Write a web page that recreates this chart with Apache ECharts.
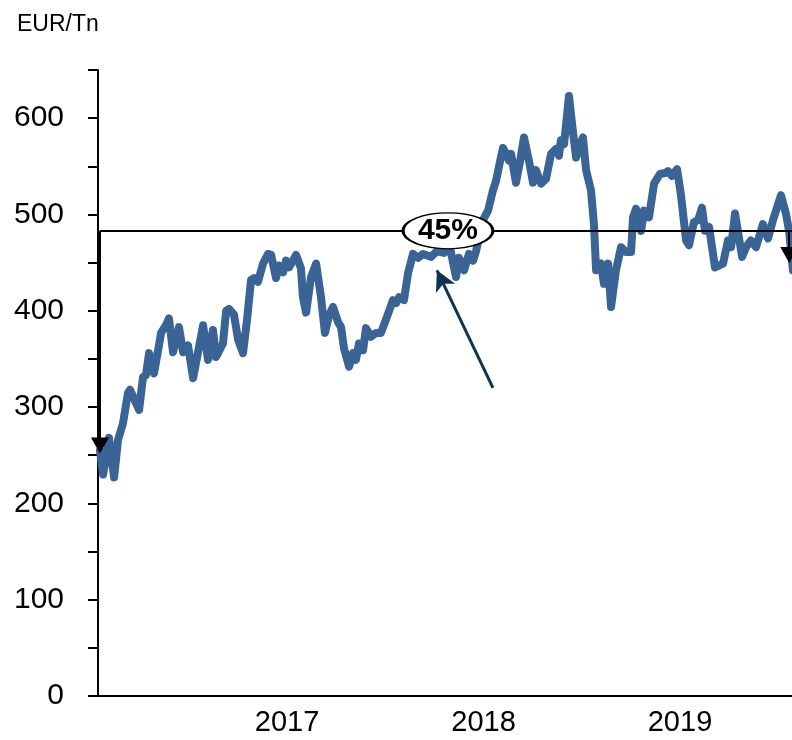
<!DOCTYPE html>
<html>
<head>
<meta charset="utf-8">
<script src="https://cdn.jsdelivr.net/npm/echarts@6/dist/echarts.min.js"></script>
<style>html,body{margin:0;padding:0;background:#fff}#c{width:792px;height:740px}</style>
</head>
<body>
<div id="c"></div>
<script>
// Dates as decimal years, prices in EUR/Tn
const dates = [2016.048,2016.064,2016.094,2016.120,2016.140,2016.165,2016.191,2016.201,2016.247,2016.267,2016.282,2016.298,2016.308,2016.323,2016.344,2016.359,2016.384,2016.399,2016.420,2016.450,2016.471,2016.496,2016.522,2016.573,2016.598,2016.623,2016.639,2016.674,2016.690,2016.705,2016.730,2016.751,2016.776,2016.796,2016.817,2016.832,2016.852,2016.878,2016.903,2016.919,2016.944,2016.959,2016.980,2016.995,2017.010,2017.046,2017.071,2017.081,2017.097,2017.122,2017.148,2017.173,2017.193,2017.214,2017.234,2017.260,2017.275,2017.290,2017.316,2017.336,2017.351,2017.366,2017.387,2017.402,2017.427,2017.453,2017.478,2017.509,2017.539,2017.555,2017.570,2017.595,2017.616,2017.641,2017.667,2017.692,2017.733,2017.763,2017.799,2017.830,2017.860,2017.875,2017.901,2017.926,2017.947,2017.962,2017.982,2017.997,2018.023,2018.048,2018.064,2018.084,2018.099,2018.115,2018.130,2018.140,2018.165,2018.186,2018.206,2018.232,2018.252,2018.267,2018.293,2018.318,2018.344,2018.369,2018.384,2018.394,2018.410,2018.435,2018.450,2018.471,2018.491,2018.506,2018.522,2018.547,2018.562,2018.573,2018.598,2018.613,2018.634,2018.649,2018.674,2018.700,2018.725,2018.751,2018.761,2018.776,2018.802,2018.817,2018.842,2018.868,2018.898,2018.924,2018.939,2018.959,2018.985,2019.005,2019.031,2019.046,2019.071,2019.092,2019.112,2019.127,2019.148,2019.178,2019.219,2019.244,2019.260,2019.280,2019.316,2019.336,2019.361,2019.387,2019.422,2019.448,2019.473,2019.514,2019.539,2019.555,2019.575];
const prices = [255,230,268,227,266,283,315,318,297,331,333,356,357,335,359,377,385,392,357,383,357,364,330,385,349,380,352,366,400,402,396,370,356,390,432,434,430,449,459,458,434,447,440,452,445,458,444,414,398,435,449,414,377,395,404,388,383,361,342,356,349,366,359,382,373,377,377,394,411,408,414,411,439,459,455,459,456,462,460,465,435,455,442,459,452,462,480,494,504,525,535,555,569,563,556,563,533,555,580,555,533,546,532,537,563,568,561,577,573,623,595,559,572,580,546,525,490,442,449,428,449,404,442,466,461,461,497,506,483,504,497,532,542,543,545,540,547,520,473,468,492,494,507,483,487,445,449,473,466,501,456,466,473,466,490,475,494,520,501,483,442];
const yTicks = [0,100,200,300,400,500,600];
const xYears = [2017,2018,2019];
const unitLabel = 'EUR/Tn';
const refLevel = 483;      // reference horizontal level
const startLevel = 260;    // start price (arrow head centre)
const endLevel = 458;      // end price (right arrow head centre)
const changeLabel = '45%';
const startDate = 2016.048, endDate = 2019.556;
const calloutFrom = [2018.048, 320], calloutTo = [2017.763, 442];
const bubbleAt = [2017.819, 483];

const FONT = 'Arial, "Liberation Sans", sans-serif';
const chart = echarts.init(document.getElementById('c'), null, {renderer:'canvas'});
chart.setOption({
  animation:false,
  backgroundColor:'#fff',
  title:{text:unitLabel,left:12,top:8,textStyle:{fontFamily:FONT,fontSize:23,fontWeight:'normal',color:'#000'}},
  grid:{left:98,right:0,top:70,bottom:44,containLabel:false},
  xAxis:{type:'value',min:2016.038,max:2019.57,
    axisLine:{show:true,lineStyle:{color:'#000',width:2}},
    axisTick:{show:false},splitLine:{show:false},
    axisLabel:{customValues:xYears,formatter:v=>String(Math.round(v)),fontFamily:FONT,fontSize:29,color:'#000',margin:12}},
  yAxis:{type:'value',min:0,max:650,interval:50,
    axisLine:{show:true,lineStyle:{color:'#000',width:2}},
    axisTick:{show:true,inside:false,length:10,lineStyle:{color:'#000',width:2}},
    splitLine:{show:false},
    axisLabel:{formatter:v=>(yTicks.indexOf(v)>=0?String(v):''),fontFamily:FONT,fontSize:30,color:'#000',margin:34}},
  series:[
    {type:'line',data:dates.map((d,i)=>[d,prices[i]]),showSymbol:false,symbol:'none',smooth:false,
     lineStyle:{color:'#3b6496',width:8,join:'round',cap:'round'},z:2,clip:true},
    {type:'line',data:[],z:5,silent:true,
     markLine:{silent:true,animation:false,label:{show:false},emphasis:{disabled:true},
       data:[
         [{coord:[startDate,refLevel],symbol:'none',lineStyle:{color:'#000',width:2,type:'solid'}},{coord:[2019.57,refLevel],symbol:'none'}],
         [{coord:[startDate,refLevel],symbol:'none',lineStyle:{color:'#000',width:2,type:'solid'}},{coord:[startDate,startLevel],symbol:'triangle',symbolSize:[18,16],symbolRotate:180}],
         [{coord:[endDate,refLevel],symbol:'none',lineStyle:{color:'#000',width:2,type:'solid'}},{coord:[endDate,endLevel],symbol:'triangle',symbolSize:[18,16],symbolRotate:180}],
         [{coord:calloutFrom,symbol:'none',lineStyle:{color:'#0d3553',width:3,type:'solid'}},{coord:calloutTo,symbol:'arrow',symbolSize:[16,20]}]
       ]}},
    {type:'line',data:[],z:6,silent:true,
     markPoint:{silent:true,animation:false,
       data:[{coord:bubbleAt,symbol:'path://M-1,0A1,1,0,1,1,1,0A1,1,0,1,1,-1,0Z',symbolSize:[90,36],symbolKeepAspect:false,
         itemStyle:{color:'#fff',borderColor:'#000',borderWidth:2},
         label:{show:true,position:'inside',formatter:changeLabel,fontFamily:FONT,fontSize:30,fontWeight:'bold',color:'#000'}}]}}
  ]
});
</script>
</body>
</html>
